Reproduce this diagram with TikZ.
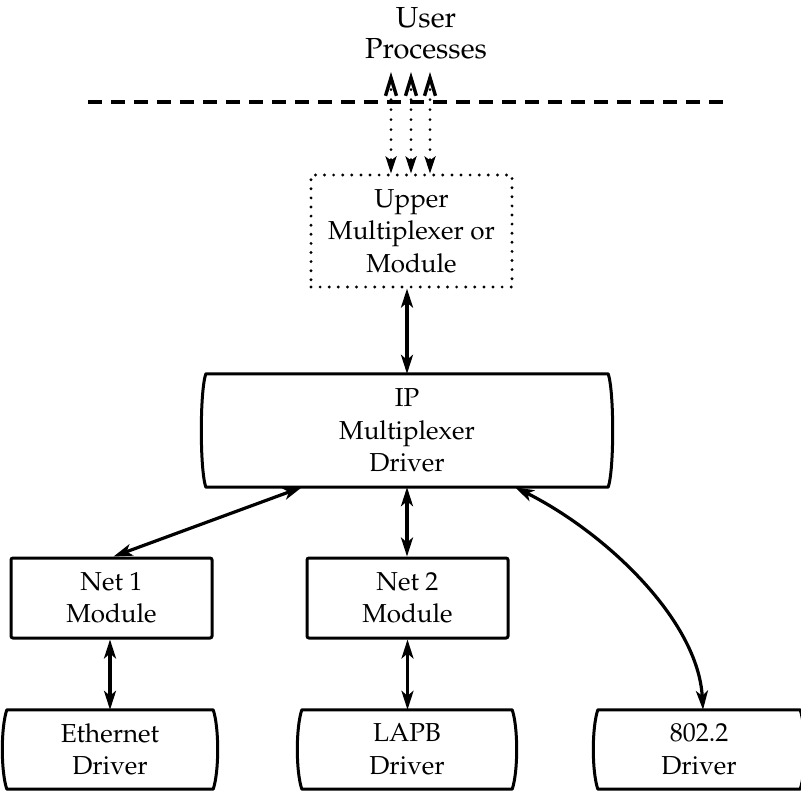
\documentclass[tikz,border=0pt]{standalone}
\usepackage[T1]{fontenc}
\usepackage{mathpazo}
\usetikzlibrary{arrows.meta,calc}
\newcommand\bowed[2]{%
  \draw[boxline] (#1.north west) -- (#1.north east)
    .. controls ($(#1.north east)+(#2,18)$) and ($(#1.south east)+(#2,-18)$) .. (#1.south east)
    -- (#1.south west)
    .. controls ($(#1.south west)+(-#2,-18)$) and ($(#1.north west)+(-#2,18)$) .. cycle;}
\begin{document}
\begin{tikzpicture}[x=1pt,y=-1pt,
  lbl/.style={font=\fontsize{26}{32.5}\selectfont, align=center, inner sep=0pt},
  toplbl/.style={font=\fontsize{29}{31}\selectfont, align=center, inner sep=0pt},
  boxline/.style={line width=3pt, line join=round},
  netbox/.style={lbl, draw, line width=3pt, rounded corners=2pt},
  dotbox/.style={lbl, draw, line width=3.2pt, line cap=round, dash pattern=on 0pt off 9.1pt},
  conn/.style={line width=3.2pt, {Stealth[length=19pt,width=12pt,inset=5pt]}-{Stealth[length=19pt,width=12pt,inset=5pt]}},
  dotconn/.style={line width=3pt, line cap=round, dash pattern=on 0pt off 10pt,
    {Straight Barb[length=18pt,width=11pt,line width=3.4pt]}-{Stealth[length=17pt,width=11pt,inset=4pt]}},
  dashline/.style={line width=3.2pt, dash pattern=on 14pt off 9pt}
]
\useasboundingbox (0,0) rectangle (801,792);

% top label and boundary
\node[toplbl] (usr) at (426,33) {User\\Processes};
\coordinate (dl) at (88,102);
\coordinate (dr) at (730,102);
\draw[dashline] (dl) -- (dr);

% boxes
\node[dotbox, minimum width=201pt, minimum height=112pt] (up) at (411.5,231) {Upper\\Multiplexer or\\Module};
\node[lbl, minimum width=402pt, minimum height=113pt] (ip) at (407,430.5) {IP\\Multiplexer\\Driver};
\bowed{ip}{6}
\node[netbox, minimum width=201pt, minimum height=80pt] (n1) at (111.5,598) {Net 1\\Module};
\node[netbox, minimum width=201pt, minimum height=80pt] (n2) at (407.5,598) {Net 2\\Module};
\node[lbl, minimum width=206pt, minimum height=79pt] (eth) at (110,749.5) {Ethernet\\Driver};
\node[lbl, minimum width=210pt, minimum height=79pt] (lapb) at (407,749.5) {LAPB\\Driver};
\node[lbl, minimum width=202pt, minimum height=79pt] (d3) at (699,749.5) {802.2\\Driver};
\bowed{eth}{6}
\bowed{lapb}{6}
\bowed{d3}{6}

% dotted connectors to user processes
\coordinate (t1) at (391,72);
\coordinate (t2) at (411,72);
\coordinate (t3) at (430,72);
\draw[dotconn] (t1) -- (t1 |- up.north);
\draw[dotconn] (t2) -- (t2 |- up.north);
\draw[dotconn] (t3) -- (t3 |- up.north);

% solid connectors
\draw[conn] (ip.north |- up.south) -- (ip.north);
\draw[conn] ([xshift=2pt]n1.north) -- ([xshift=-105pt]ip.south);
\draw[conn] (ip.south) -- (ip.south |- n2.north);
\draw[conn] (n1.south -| eth.north) -- (eth.north);
\draw[conn] (n2.south) -- (n2.south |- lapb.north);
\draw[conn] ([xshift=108pt]ip.south) .. controls +(90,45) and +(-5,-90) .. ([xshift=4pt]d3.north);
\end{tikzpicture}
\end{document}
